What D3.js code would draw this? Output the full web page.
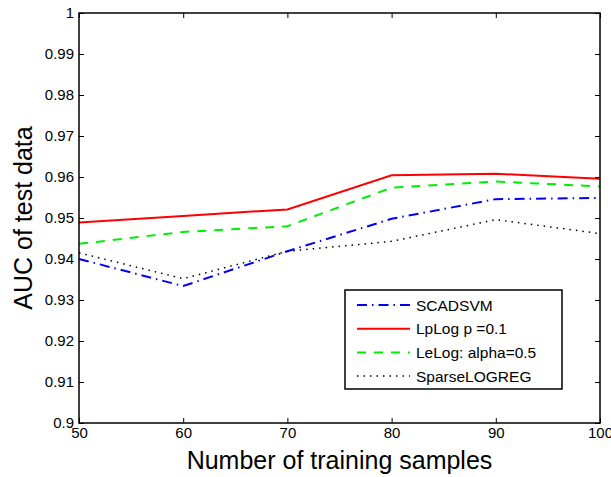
<!DOCTYPE html>
<html>
<head>
<meta charset="utf-8">
<script src="https://cdn.jsdelivr.net/npm/d3@7"></script>
<style>
  body { margin: 0; background: #fff; }
  svg { font-family: "Liberation Sans", Arial, sans-serif; }
</style>
</head>
<body>
<script>
// AUC vs number of training samples

var w = 611;
var h = 477;

var samples = [50, 60, 70, 80, 90, 100];
var scadsvm = [0.9400, 0.9334, 0.9419, 0.9498, 0.9546, 0.9549];
var lplog = [0.9489, 0.9505, 0.9521, 0.9604, 0.9608, 0.9596];
var lelog = [0.9437, 0.9466, 0.9480, 0.9574, 0.9589, 0.9577];
var sparselogreg = [0.9415, 0.9352, 0.9419, 0.9443, 0.9496, 0.9462];

var seriesNames = ["SCADSVM", "LpLog p =0.1", "LeLog: alpha=0.5", "SparseLOGREG"];
var xTicks = [50, 60, 70, 80, 90, 100];
var yTicks = [0.9, 0.91, 0.92, 0.93, 0.94, 0.95, 0.96, 0.97, 0.98, 0.99, 1];

var series = [
    {name: seriesNames[0], values: scadsvm, color: "#0000ff", dash: "10,5,1.5,5", width: 2},
    {name: seriesNames[1], values: lplog, color: "#ff0000", dash: null, width: 2},
    {name: seriesNames[2], values: lelog, color: "#00ee00", dash: "9,8", width: 2},
    {name: seriesNames[3], values: sparselogreg, color: "#000000", dash: "1.5,5", width: 1.5}
];

// plot box edges (top is a window property, so avoid that name)
var pLeft = 79, pRight = 600, pTop = 13, pBottom = 423;

var x = d3.scaleLinear().domain([50, 100]).range([pLeft, pRight]);
var y = d3.scaleLinear().domain([0.9, 1]).range([pBottom, pTop]);

var svg = d3.select("body")
    .append("svg")
    .attr("width", w)
    .attr("height", h);

var fmt = function(d) { return d === 1 ? "1" : (d === 0.9 ? "0.9" : d3.format(".2f")(d)); };

// bottom axis
svg.append("g")
    .attr("transform", "translate(0," + pBottom + ")")
    .call(d3.axisBottom(x).tickValues(xTicks).tickSizeInner(-5).tickSizeOuter(0).tickPadding(4))
    .call(function(g) { g.select(".domain").remove(); })
    .selectAll("text")
    .attr("font-size", 15)
    .attr("font-family", "Liberation Sans, Arial, sans-serif")
    .attr("fill", "#000");

// left axis
svg.append("g")
    .attr("transform", "translate(" + pLeft + ",0)")
    .call(d3.axisLeft(y).tickValues(yTicks).tickFormat(fmt).tickSizeInner(-5).tickSizeOuter(0).tickPadding(5))
    .call(function(g) { g.select(".domain").remove(); })
    .selectAll("text")
    .attr("font-size", 15)
    .attr("font-family", "Liberation Sans, Arial, sans-serif")
    .attr("fill", "#000");

// top and right ticks, no labels
svg.append("g")
    .attr("transform", "translate(0," + pTop + ")")
    .call(d3.axisTop(x).tickValues(xTicks).tickSizeInner(-5).tickSizeOuter(0).tickFormat(""))
    .call(function(g) { g.select(".domain").remove(); });

svg.append("g")
    .attr("transform", "translate(" + pRight + ",0)")
    .call(d3.axisRight(y).tickValues(yTicks).tickSizeInner(-5).tickSizeOuter(0).tickFormat(""))
    .call(function(g) { g.select(".domain").remove(); });

svg.selectAll(".tick line").attr("stroke", "#000").attr("stroke-width", 1);

// lines
var line = d3.line()
    .x(function(d, i) { return x(samples[i]); })
    .y(function(d) { return y(d); });

svg.selectAll(".series")
    .data(series)
    .enter()
    .append("path")
    .attr("class", "series")
    .attr("d", function(d) { return line(d.values); })
    .attr("fill", "none")
    .attr("stroke", function(d) { return d.color; })
    .attr("stroke-width", function(d) { return d.width; })
    .attr("stroke-dasharray", function(d) { return d.dash; });

// box
svg.append("rect")
    .attr("x", pLeft)
    .attr("y", pTop)
    .attr("width", pRight - pLeft)
    .attr("height", pBottom - pTop)
    .attr("fill", "none")
    .attr("stroke", "#000")
    .attr("stroke-width", 1.5);

// axis titles
svg.append("text")
    .attr("x", (pLeft + pRight) / 2)
    .attr("y", 469)
    .attr("text-anchor", "middle")
    .attr("font-size", 25)
    .text("Number of training samples");

svg.append("text")
    .attr("transform", "translate(32," + ((pTop + pBottom) / 2) + ") rotate(-90)")
    .attr("text-anchor", "middle")
    .attr("font-size", 25)
    .text("AUC of test data");

// legend
var lg = svg.append("g");
lg.append("rect")
    .attr("x", 345)
    .attr("y", 290)
    .attr("width", 217)
    .attr("height", 99)
    .attr("fill", "#fff")
    .attr("stroke", "#000")
    .attr("stroke-width", 1.5);

var items = lg.selectAll(".item")
    .data(series)
    .enter()
    .append("g")
    .attr("class", "item")
    .attr("transform", function(d, i) { return "translate(0," + (305 + i * 23.7) + ")"; });

items.append("line")
    .attr("x1", 357)
    .attr("x2", 410)
    .attr("y1", 0)
    .attr("y2", 0)
    .attr("stroke", function(d) { return d.color; })
    .attr("stroke-width", function(d) { return d.width; })
    .attr("stroke-dasharray", function(d) { return d.dash; });

items.append("text")
    .attr("x", 416)
    .attr("y", 5.5)
    .attr("font-size", 15.5)
    .text(function(d) { return d.name; });
</script>
</body>
</html>
